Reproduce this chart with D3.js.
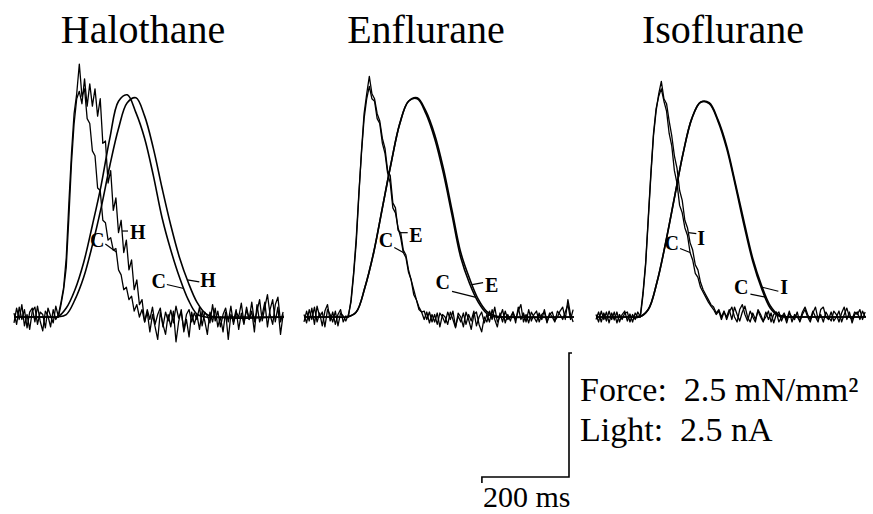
<!DOCTYPE html>
<html>
<head>
<meta charset="utf-8">
<script src="https://cdn.jsdelivr.net/npm/d3@7"></script>
<style>
  body { margin: 0; background: #fff; }
</style>
</head>
<body>
<div id="chart_div"></div>
<script>
// page size
var width = 873,
  height = 514;
var serif = "'Liberation Serif', 'Times New Roman', 'DejaVu Serif', serif";

// panels
var panelNames = ["Halothane", "Enflurane", "Isoflurane"];
var drugLetters = ["H", "E", "I"];

// light (aequorin) traces, sampled every 6 ms from 0 to 618 ms, in nA
var sampleStep = 6;

var halothaneLightC = [
  0.08, -0.15, 0.2, -0.05, 0.15, -0.22, 0.1, 0.18, -0.1, 0.22,
  -0.08, -0.28, 0.12, 0.02, -0.2, 0.15, -0.05, 0.05, 0.3, 0.6,
  1.2, 2.3, 3.3, 4.1, 4.5, 5.1, 4.45, 4.6, 4.0, 3.9,
  3.35, 3.25, 2.6, 2.55, 1.95, 1.9, 1.55, 1.6, 1.35, 1.38,
  0.95, 0.85, 0.55, 0.6, 0.35, 0.42, 0.12, 0.25, 0.0, 0.15,
  -0.1, 0.15, -0.05, 0.2, -0.15, 0.05, 0.18, -0.2, 0.1, -0.08,
  0.14, -0.12, 0.22, -0.02, 0.1, -0.25, 0.05, 0.15, -0.1, 0.08,
  -0.05, 0.2, -0.18, 0.1, 0.02, -0.12, 0.25, -0.08, 0.12, -0.2,
  0.05, 0.18, -0.1, 0.22, -0.15, 0.1, 0.0, 0.28, -0.12, 0.15,
  -0.05, 0.3, -0.1, 0.12, 0.35, -0.08, 0.2, 0.45, 0.05, -0.15,
  0.25, 0.4, -0.1, 0.1
];
var halothaneLightH = [
  -0.12, 0.18, -0.05, 0.25, -0.18, 0.05, -0.25, 0.12, 0.2, -0.15,
  0.1, 0.05, -0.22, 0.18, 0.02, -0.12, 0.22, 0.0, 0.25, 0.55,
  1.0, 2.0, 3.1, 3.9, 4.4, 4.55, 4.3, 4.8, 4.25, 4.7,
  4.25, 4.6, 4.05, 4.4, 3.5, 3.55, 2.7, 2.95, 2.15, 2.4,
  1.7, 1.95, 1.3, 1.55, 0.95, 1.15, 0.55, 0.75, 0.25, 0.35,
  -0.1, 0.1, -0.3, 0.05, -0.2, -0.45, 0.1, -0.15, -0.35, 0.05,
  -0.2, 0.12, -0.5, -0.1, 0.15, -0.3, -0.05, -0.4, 0.1, -0.15,
  0.05, -0.25, 0.12, -0.08, -0.35, 0.1, -0.1, 0.18, -0.2, 0.0,
  -0.3, 0.1, -0.45, 0.05, -0.1, 0.15, -0.25, 0.08, -0.15, 0.2,
  -0.05, 0.12, -0.3, 0.25, -0.1, 0.05, 0.3, -0.2, 0.15, 0.35,
  -0.1, 0.2, -0.35, 0.05
];
var enfluraneLightC = [
  0.05, -0.12, 0.15, -0.05, 0.2, -0.1, 0.08, -0.18, 0.12, 0.25,
  -0.08, 0.1, -0.15, 0.05, 0.15, -0.1, 0.02, 0.0, 0.35, 0.9,
  1.6, 2.5, 3.3, 4.0, 4.4, 4.65, 4.4, 4.35, 4.0, 3.9,
  3.5, 3.3, 2.9, 2.7, 2.2, 2.1, 1.8, 1.6, 1.3, 1.2,
  0.9, 0.75, 0.45, 0.35, 0.15, 0.1, 0.12, -0.05, 0.1, -0.1,
  0.05, -0.15, 0.08, 0.0, -0.12, 0.1, -0.05, 0.12, -0.2, 0.02,
  -0.1, 0.08, -0.15, 0.05, -0.08, 0.12, -0.18, 0.0, 0.1, -0.12,
  0.05, -0.1, 0.15, -0.05, -0.2, 0.08, -0.1, 0.12, -0.05, 0.0,
  0.1, -0.12, 0.2, -0.05, 0.08, -0.1, 0.15, -0.08, 0.05, 0.12,
  -0.1, 0.05, 0.1, -0.12, 0.08, 0.0, -0.1, 0.12, 0.05, -0.05,
  0.1, 0.25, -0.05, 0.15
];
var enfluraneLightE = [
  -0.1, 0.12, -0.08, 0.18, -0.15, 0.22, 0.0, 0.1, -0.2, 0.15,
  0.05, -0.1, 0.12, -0.18, 0.08, 0.02, -0.08, 0.05, 0.3, 0.85,
  1.5, 2.45, 3.35, 4.1, 4.5, 4.85, 4.5, 4.4, 4.1, 3.95,
  3.6, 3.4, 2.95, 2.85, 2.3, 2.2, 1.75, 1.7, 1.35, 1.25,
  0.95, 0.75, 0.55, 0.35, 0.2, 0.1, -0.05, 0.1, -0.12, 0.05,
  -0.1, 0.08, -0.2, 0.05, 0.0, -0.15, 0.1, -0.05, -0.22, 0.08,
  0.0, -0.2, 0.1, -0.05, -0.25, 0.05, 0.1, -0.15, -0.3, 0.0,
  -0.1, 0.12, -0.05, 0.2, -0.1, 0.0, 0.15, -0.12, 0.05, -0.08,
  0.1, -0.05, 0.12, 0.25, -0.1, 0.05, -0.12, 0.1, 0.0, -0.1,
  0.08, -0.05, 0.15, -0.1, 0.05, 0.1, -0.08, 0.0, 0.12, 0.2,
  -0.05, 0.35, 0.05, -0.1
];
var isofluraneLightC = [
  0.05, -0.1, 0.12, -0.05, 0.1, -0.12, 0.08, -0.06, 0.1, -0.1,
  0.05, 0.12, -0.08, 0.06, -0.1, 0.08, 0.0, 0.05, 0.5, 1.1,
  2.0, 2.9, 3.7, 4.2, 4.45, 4.6, 4.35, 4.15, 3.7, 3.45,
  2.95, 2.7, 2.25, 2.1, 1.8, 1.65, 1.3, 1.15, 0.88, 0.8,
  0.6, 0.5, 0.4, 0.3, 0.22, 0.15, 0.05, 0.12, -0.05, 0.1,
  0.0, 0.15, -0.05, 0.2, 0.05, -0.08, 0.1, 0.22, 0.0, -0.1,
  0.08, -0.05, 0.12, 0.0, -0.1, 0.1, -0.05, 0.08, -0.12, 0.05,
  0.1, -0.08, 0.05, -0.12, 0.08, 0.0, -0.05, 0.1, -0.1, 0.05,
  0.15, 0.0, -0.1, 0.08, 0.2, -0.05, 0.05, -0.1, 0.1, 0.0,
  -0.08, 0.12, 0.05, -0.1, 0.08, 0.2, -0.05, 0.1, -0.12, 0.05,
  0.1, -0.05, 0.12, 0.0
];
var isofluraneLightI = [
  -0.05, 0.1, -0.1, 0.08, -0.08, 0.12, -0.05, 0.1, -0.12, 0.05,
  -0.05, 0.08, 0.1, -0.1, 0.05, -0.05, 0.1, 0.0, 0.45, 1.05,
  1.95, 2.85, 3.65, 4.15, 4.5, 4.75, 4.4, 4.3, 3.95, 3.65,
  3.25, 3.0, 2.55, 2.35, 1.95, 1.8, 1.5, 1.35, 1.05, 0.95,
  0.7, 0.55, 0.45, 0.35, 0.25, 0.2, 0.08, 0.15, 0.0, 0.12,
  -0.05, 0.1, 0.2, 0.0, -0.1, 0.15, 0.25, 0.05, -0.08, 0.12,
  0.0, -0.1, 0.15, 0.05, -0.08, 0.0, 0.12, -0.1, 0.05, 0.1,
  -0.1, 0.0, 0.08, -0.05, 0.12, -0.1, 0.05, 0.0, -0.08, 0.1,
  0.2, 0.05, -0.05, 0.12, 0.0, -0.1, 0.15, 0.2, 0.0, -0.05,
  0.1, -0.08, 0.0, 0.12, -0.1, 0.05, 0.18, 0.0, -0.05, 0.1,
  0.05, 0.15, -0.05, 0.1
];

// force traces (mN/mm2) at these times (ms)
var forceTimes = [0, 80, 100, 120, 140, 160, 180, 200, 220, 240, 260, 280, 300, 320, 340, 360, 380, 400, 420, 440, 460, 620];
var halothaneForceC = [0, 0, 0, 0.18, 0.55, 1.1, 1.85, 2.65, 3.6, 4.35, 4.48, 4.12, 3.6, 2.85, 2.0, 1.35, 0.8, 0.35, 0.06, 0, 0, 0];
var halothaneForceH = [0, 0, 0, 0.05, 0.35, 0.8, 1.45, 2.2, 3.05, 3.8, 4.32, 4.42, 4.05, 3.4, 2.6, 1.85, 1.2, 0.7, 0.3, 0.07, 0, 0];
var enfluraneForceC = [0, 0, 0, 0.1, 0.6, 1.3, 2.2, 3.1, 3.9, 4.35, 4.4, 4.1, 3.6, 2.9, 2.05, 1.2, 0.68, 0.3, 0.07, 0, 0, 0];
var enfluraneForceE = [0, 0, 0, 0.1, 0.6, 1.3, 2.2, 3.1, 3.9, 4.35, 4.42, 4.15, 3.68, 3.0, 2.15, 1.3, 0.78, 0.36, 0.11, 0.02, 0, 0];
var isofluraneForceC = [0, 0, 0, 0.15, 0.7, 1.5, 2.4, 3.3, 4.0, 4.33, 4.3, 3.95, 3.4, 2.65, 1.85, 1.12, 0.58, 0.18, 0.02, 0, 0, 0];
var isofluraneForceI = [0, 0, 0, 0.15, 0.7, 1.5, 2.4, 3.3, 4.0, 4.33, 4.32, 3.98, 3.45, 2.7, 1.92, 1.18, 0.64, 0.23, 0.04, 0, 0, 0];

// scale bar values
var scaleBarTime = 200;
var scaleBarAmp = 2.5;
var scaleBarLabels = ["Force:  2.5 mN/mm\u00b2", "Light:  2.5 nA", "200 ms"];

var lightC = [halothaneLightC, enfluraneLightC, isofluraneLightC];
var lightD = [halothaneLightH, enfluraneLightE, isofluraneLightI];
var forceC = [halothaneForceC, enfluraneForceC, isofluraneForceC];
var forceD = [halothaneForceH, enfluraneForceE, isofluraneForceI];

// layout
var panelLeft = [14, 304, 596];
var titleX = [143, 426, 723];

var svg = d3
  .select("#chart_div")
  .append("svg")
  .attr("width", width)
  .attr("height", height)
  .attr("font-family", serif);

svg.append("rect").attr("width", width).attr("height", height).attr("fill", "#fff");

// shared scales: time (ms) and amplitude
var x = d3.scaleLinear().domain([0, 620]).range([0, 270]);
var y = d3.scaleLinear().domain([0, 5]).range([317, 69]);

var lightLine = d3
  .line()
  .x(function(d, i) { return x(i * sampleStep); })
  .y(function(d) { return y(d); });

var forceLine = d3
  .line()
  .x(function(d, i) { return x(forceTimes[i]); })
  .y(function(d) { return y(d); })
  .curve(d3.curveCatmullRom.alpha(0.5));

// value of a trace at time t (for placing the letter leaders)
function lightAt(arr, t) {
  var i = Math.floor(t / sampleStep), f = t / sampleStep - i;
  return arr[i] + (arr[i + 1] - arr[i]) * f;
}
function forceAt(arr, t) {
  var i = d3.bisectRight(forceTimes, t) - 1;
  var f = (t - forceTimes[i]) / (forceTimes[i + 1] - forceTimes[i]);
  return arr[i] + (arr[i + 1] - arr[i]) * f;
}

// letter labels: panel, trace, anchor time, leader dx/dy, text dx/dy
var labels = [
  [0, "lightC", 235, -11, -8, -1, 3],
  [0, "lightD", 248, 6, 0, 2, 8],
  [0, "forceC", 390, -17, -4, -1, 4],
  [0, "forceD", 398, 12, 2, 1, 5],
  [1, "lightC", 228, -9, -5, -1, -1],
  [1, "lightD", 222, 7, 0, 1.5, 9],
  [1, "forceC", 395, -24, -6, -2, -2],
  [1, "forceD", 386, 11, -2, 2, 9],
  [2, "lightC", 216, -10, -4, -1, 1],
  [2, "lightD", 212, 8, 1, 1, 11],
  [2, "forceC", 389, -15, -3, -2, 0],
  [2, "forceD", 382, 16, 4, 2, 3]
];

panelNames.forEach(function(name, p) {
  var g = svg.append("g").attr("transform", "translate(" + panelLeft[p] + ",0)");

  svg
    .append("text")
    .attr("x", titleX[p])
    .attr("y", 43)
    .attr("text-anchor", "middle")
    .attr("font-size", "40px")
    .text(name);

  [lightC[p], lightD[p]].forEach(function(arr) {
    g.append("path")
      .attr("d", lightLine(arr))
      .attr("fill", "none")
      .attr("stroke", "#000")
      .attr("stroke-width", 1.3)
      .attr("stroke-linejoin", "round");
  });

  [forceC[p], forceD[p]].forEach(function(arr) {
    g.append("path")
      .attr("d", forceLine(arr))
      .attr("fill", "none")
      .attr("stroke", "#000")
      .attr("stroke-width", 1.6);
  });

  labels
    .filter(function(l) { return l[0] === p; })
    .forEach(function(l) {
      var key = l[1], t = l[2];
      var v = key === "lightC" ? lightAt(lightC[p], t)
        : key === "lightD" ? lightAt(lightD[p], t)
        : key === "forceC" ? forceAt(forceC[p], t)
        : forceAt(forceD[p], t);
      var ax = x(t), ay = y(v);
      var ex = ax + l[3], ey = ay + l[4];
      var isC = key.slice(-1) === "C";
      g.append("line")
        .attr("x1", ax).attr("y1", ay)
        .attr("x2", ex).attr("y2", ey)
        .attr("stroke", "#000")
        .attr("stroke-width", 1.2);
      g.append("text")
        .attr("x", ex + l[5])
        .attr("y", ey + l[6])
        .attr("text-anchor", isC ? "end" : "start")
        .attr("font-size", "20px")
        .attr("font-weight", "bold")
        .text(isC ? "C" : drugLetters[p]);
    });
});

// scale bar
var barX = 569, barY = 477;
var barW = x(scaleBarTime) - x(0);
var barH = y(0) - y(scaleBarAmp);
var bar = svg.append("g").attr("transform", "translate(" + barX + "," + barY + ")");
bar.append("path")
  .attr("d", "M3," + (-barH) + "H0V0H" + (-barW) + "v6")
  .attr("fill", "none")
  .attr("stroke", "#000")
  .attr("stroke-width", 1.6);

svg.append("text")
  .attr("x", 580).attr("y", 401)
  .attr("font-size", "34px")
  .style("white-space", "pre")
  .text(scaleBarLabels[0]);
svg.append("text")
  .attr("x", 580).attr("y", 441)
  .attr("font-size", "34px")
  .style("white-space", "pre")
  .text(scaleBarLabels[1]);
svg.append("text")
  .attr("x", barX - barW + 1).attr("y", 507)
  .attr("font-size", "30px")
  .text(scaleBarLabels[2]);
</script>
</body>
</html>
